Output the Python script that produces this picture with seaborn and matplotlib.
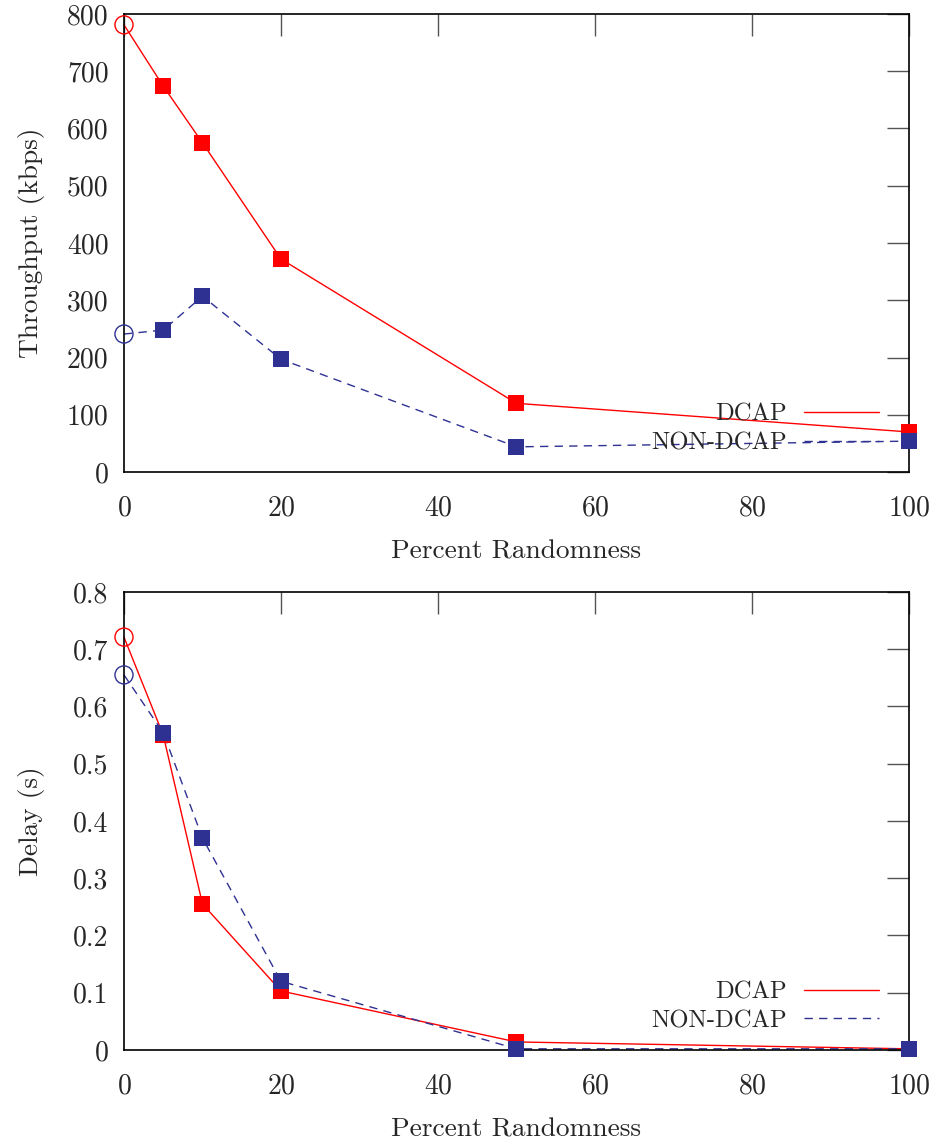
import matplotlib
matplotlib.use("Agg")
import matplotlib.pyplot as plt
from matplotlib.lines import Line2D
from matplotlib.ticker import FuncFormatter
import pandas as pd
import seaborn as sns

# Measured results versus percentage of random traffic
randomness = [0, 5, 10, 20, 50, 100]
throughput_dcap = [781, 674, 575, 372, 120, 70]
throughput_nondcap = [241, 248, 307, 197, 44, 54]
delay_dcap = [0.721, 0.550, 0.255, 0.103, 0.014, 0.002]
delay_nondcap = [0.655, 0.554, 0.370, 0.120, 0.002, 0.002]
series_names = ["DCAP", "NON-DCAP"]

RED = "#ff0000"
BLUE = "#2e3192"

sns.set_theme(style="white")
plt.rcParams["font.family"] = ["cmr10", "DejaVu Serif"]
plt.rcParams["axes.formatter.use_mathtext"] = True
plt.rcParams["mathtext.fontset"] = "cm"

fig = plt.figure(figsize=(9.4, 11.46), dpi=100)
ax_top = fig.add_axes([0.1319, 0.5881, 0.8351, 0.3997])
ax_bot = fig.add_axes([0.1319, 0.0838, 0.8351, 0.3997])

DASH = (0, (6, 4.5))
LABEL_FS = 19.7
TICK_FS = 20
LEGEND_FS = 17.7


def draw_panel(ax, dcap, nondcap, ylim, yticks, ylabel, yfmt):
    df = pd.DataFrame({"x": randomness * 2,
                       "y": list(dcap) + list(nondcap),
                       "series": [series_names[0]] * len(randomness) + [series_names[1]] * len(randomness)})
    for name, color, ls in [(series_names[0], RED, "-"), (series_names[1], BLUE, DASH)]:
        sub = df[df["series"] == name]
        sns.lineplot(data=sub, x="x", y="y", ax=ax, color=color, lw=1.0,
                     linestyle=ls, legend=False, clip_on=False, zorder=2)
        first = sub.iloc[:1]
        rest = sub.iloc[1:]
        # open circle for the baseline point, filled squares for the rest
        sns.scatterplot(data=first, x="x", y="y", ax=ax, marker="o", s=169,
                        facecolor="none", edgecolor=color, linewidth=1.0,
                        legend=False, clip_on=False, zorder=3)
        sns.scatterplot(data=rest, x="x", y="y", ax=ax, marker="s", s=132,
                        color=color, linewidth=0, legend=False, clip_on=False, zorder=3)

    ax.set_xlim(0, 100)
    ax.set_ylim(*ylim)
    ax.set_xticks([0, 20, 40, 60, 80, 100])
    ax.set_yticks(yticks)
    ax.yaxis.set_major_formatter(FuncFormatter(yfmt))
    ax.tick_params(direction="in", length=16, width=1.0, color="#555555",
                   top=True, right=True, labelsize=TICK_FS)
    ax.tick_params(axis="x", pad=16.5)
    ax.tick_params(axis="y", pad=11)
    for sp in ax.spines.values():
        sp.set_color("black")
        sp.set_linewidth(1.2)
    ax.set_xlabel("Percent Randomness", fontsize=LABEL_FS)
    ax.set_ylabel(ylabel, fontsize=LABEL_FS)
    ax.xaxis.set_label_coords(0.5, -0.1485)
    ax.yaxis.set_label_coords(-0.1006, 0.5)

    handles = [Line2D([], [], color=RED, lw=1.0),
               Line2D([], [], color=BLUE, lw=1.0, linestyle=DASH)]
    ax.legend(handles, series_names, loc="lower right", bbox_to_anchor=(0.962, 0.039),
              frameon=False, markerfirst=False, fontsize=LEGEND_FS, handlelength=3.05,
              handletextpad=0.7, labelspacing=0.25, borderpad=0, borderaxespad=0)


draw_panel(ax_top, throughput_dcap, throughput_nondcap, (0, 800),
           list(range(0, 801, 100)), "Throughput (kbps)",
           lambda v, p: f"{int(round(v))}")
draw_panel(ax_bot, delay_dcap, delay_nondcap, (0, 0.8),
           [round(0.1 * i, 1) for i in range(9)], "Delay (s)",
           lambda v, p: "0" if abs(v) < 1e-9 else f"{v:.1f}")

fig.savefig("out.png", dpi=100)
